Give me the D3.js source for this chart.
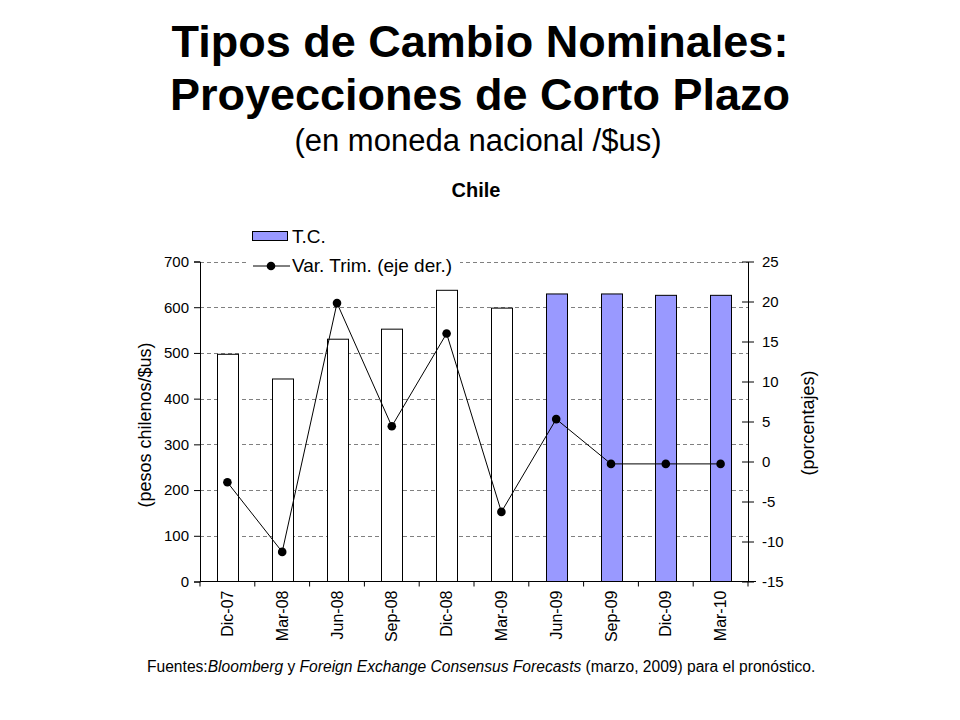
<!DOCTYPE html>
<html><head><meta charset="utf-8">
<script src="https://cdn.jsdelivr.net/npm/d3@7"></script>
<style>body{margin:0;background:#fff}svg{display:block}text{font-family:Arial,"Liberation Sans",sans-serif}</style>
</head><body><svg id="c" width="960" height="720"></svg>
<script>
const categories = ["Dic-07","Mar-08","Jun-08","Sep-08","Dic-08","Mar-09","Jun-09","Sep-09","Dic-09","Mar-10"];
const tcValues = [497, 443, 530, 552, 637, 598, 629, 629, 626, 626];
const forecast = [false,false,false,false,false,false,true,true,true,true];
const varTrim = [-2.6, -11.3, 19.8, 4.4, 16.0, -6.3, 5.3, -0.3, -0.3, -0.3];
const leftTicks = [0,100,200,300,400,500,600,700];
const rightTicks = [-15,-10,-5,0,5,10,15,20,25];

const svg = d3.select("#c");
const L = 200, R = 748, T = 261.5, B = 581.5;
const x = d3.scaleBand().domain(categories).range([L, R]).paddingInner(0.62).paddingOuter(0.31);
const xb = d3.scaleBand().domain(categories).range([L, R]);
const yL = d3.scaleLinear().domain([0, 700]).range([B, T]);
const yR = d3.scaleLinear().domain([-15, 25]).range([B, T]);

// titles
svg.append("text").attr("x",480).attr("y",57).attr("text-anchor","middle").attr("font-size",45).attr("font-weight","bold").text("Tipos de Cambio Nominales:");
svg.append("text").attr("x",480).attr("y",110).attr("text-anchor","middle").attr("font-size",45).attr("font-weight","bold").text("Proyecciones de Corto Plazo");
svg.append("text").attr("x",478).attr("y",151).attr("text-anchor","middle").attr("font-size",31).text("(en moneda nacional /$us)");
svg.append("text").attr("x",476).attr("y",197).attr("text-anchor","middle").attr("font-size",20).attr("font-weight","bold").text("Chile");

// gridlines
svg.append("g").selectAll("line").data(leftTicks.slice(1)).join("line")
  .attr("x1",L).attr("x2",R).attr("y1",d=>Math.round(yL(d))+0.5).attr("y2",d=>Math.round(yL(d))+0.5)
  .attr("stroke","#808080").attr("stroke-dasharray","4,3").attr("stroke-width",1);

// bars
svg.append("g").selectAll("rect").data(categories).join("rect")
  .attr("x",d=>Math.round(x(d))+0.5).attr("width",Math.round(x.bandwidth()))
  .attr("y",(d,i)=>yL(tcValues[i])).attr("height",(d,i)=>B-yL(tcValues[i]))
  .attr("fill",(d,i)=>forecast[i]?"#9999FF":"#FFFFFF").attr("stroke","#000").attr("stroke-width",1);

// axes
const axL = svg.append("g").attr("transform",`translate(${L},0)`)
  .call(d3.axisLeft(yL).tickValues(leftTicks).tickSize(6).tickPadding(5));
const axR = svg.append("g").attr("transform",`translate(${R},0)`)
  .call(d3.axisRight(yR).tickValues(rightTicks).tickSize(0).tickPadding(14).tickFormat(d=>d<0?"-"+Math.abs(d):d));
axR.selectAll(".tick").append("line").attr("x1",-6).attr("x2",6).attr("stroke","#000");
const axB = svg.append("g").attr("transform",`translate(0,${B})`)
  .call(d3.axisBottom(xb).tickSize(0).tickPadding(0));
[axL,axR,axB].forEach(a=>{a.select(".domain").attr("stroke","#000");a.selectAll("text").attr("font-family","Arial,'Liberation Sans',sans-serif").attr("font-size",15).attr("fill","#000");});
axB.select(".domain").remove();
svg.append("line").attr("x1",L).attr("x2",R+8).attr("y1",B).attr("y2",B).attr("stroke","#000");
svg.append("g").selectAll("line").data(d3.range(categories.length+1)).join("line")
  .attr("x1",i=>L+i*xb.step()).attr("x2",i=>L+i*xb.step()).attr("y1",B).attr("y2",B+5).attr("stroke","#000");
axB.selectAll(".tick text").attr("font-size",16).attr("transform","rotate(-90)").attr("text-anchor","end")
  .attr("x",-9).attr("y",0).attr("dy","0.35em");

// line
const line = d3.line().x((d,i)=>xb(categories[i])+xb.bandwidth()/2).y(d=>yR(d));
svg.append("path").datum(varTrim).attr("d",line).attr("fill","none").attr("stroke","#000").attr("stroke-width",1);
svg.append("g").selectAll("circle").data(varTrim).join("circle")
  .attr("cx",(d,i)=>xb(categories[i])+xb.bandwidth()/2).attr("cy",d=>yR(d)).attr("r",4.3).attr("fill","#000");

// axis titles
svg.append("text").attr("transform","translate(151,425) rotate(-90)").attr("text-anchor","middle").attr("font-size",18).text("(pesos chilenos/$us)");
svg.append("text").attr("transform","translate(814,423) rotate(-90)").attr("text-anchor","middle").attr("font-size",18).text("(porcentajes)");

// legend
const lg = svg.append("g");
lg.append("rect").attr("x",246).attr("y",222).attr("width",214).attr("height",54).attr("fill","#fff");
lg.append("rect").attr("x",252.5).attr("y",231.5).attr("width",35).attr("height",9).attr("fill","#9999FF").attr("stroke","#000");
lg.append("text").attr("x",292).attr("y",243).attr("font-size",19).text("T.C.");
lg.append("line").attr("x1",253).attr("x2",290).attr("y1",266).attr("y2",266).attr("stroke","#000");
lg.append("circle").attr("cx",271).attr("cy",266).attr("r",4.3).attr("fill","#000");
lg.append("text").attr("x",292).attr("y",272).attr("font-size",19).text("Var. Trim. (eje der.)");

// footnote
const fn = svg.append("text").attr("x",147).attr("y",672).attr("font-size",15.6);
fn.append("tspan").text("Fuentes:");
fn.append("tspan").attr("font-style","italic").text("Bloomberg");
fn.append("tspan").text(" y ");
fn.append("tspan").attr("font-style","italic").text("Foreign Exchange Consensus Forecasts");
fn.append("tspan").text(" (marzo, 2009) para el pronóstico.");
</script></body></html>
